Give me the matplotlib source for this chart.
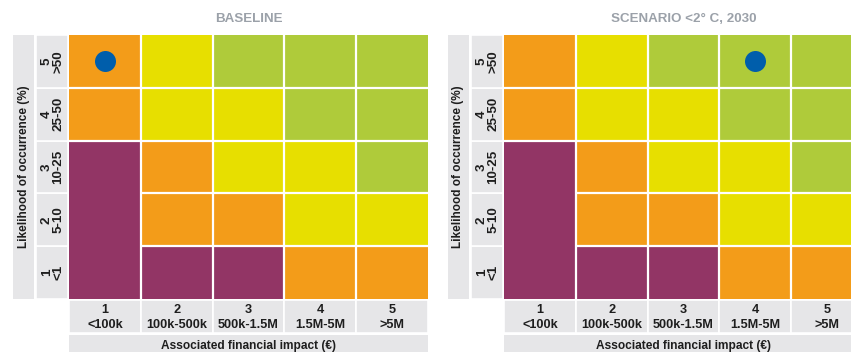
import matplotlib
matplotlib.use("Agg")
import matplotlib.pyplot as plt
from matplotlib.patches import Rectangle
import numpy as np

plt.rcParams['font.family'] = ['Liberation Sans', 'DejaVu Sans']

# Risk matrix: rows = likelihood 1..5 (bottom to top), columns = impact 1..5
# levels: 0 = purple, 1 = orange, 2 = yellow, 3 = green
impact_codes = ["1", "2", "3", "4", "5"]
impact_ranges = ["<100k", "100k-500k", "500k-1.5M", "1.5M-5M", ">5M"]
likelihood_codes = ["1", "2", "3", "4", "5"]
likelihood_ranges = ["<1", "5-10", "10-25", "25-50", ">50"]

baseline_levels = [
    [0, 0, 0, 1, 1],   # likelihood 1
    [0, 1, 1, 2, 2],   # likelihood 2
    [0, 1, 2, 2, 3],   # likelihood 3
    [1, 2, 2, 3, 3],   # likelihood 4
    [1, 2, 3, 3, 3],   # likelihood 5
]
scenario_levels = [
    [0, 0, 0, 1, 1],
    [0, 1, 1, 2, 2],
    [0, 1, 2, 2, 3],
    [1, 2, 2, 3, 3],
    [1, 2, 3, 3, 3],
]
baseline_point = (1, 5)   # (impact, likelihood)
scenario_point = (4, 5)

panel_titles = ["BASELINE", "SCENARIO <2° C, 2030"]
x_title = "Associated financial impact (€)"
y_title = "Likelihood of occurrence (%)"

level_colors = ["#923565", "#F39C19", "#E7DF00", "#AFCB3A"]
band_color = "#E6E6E8"
title_color = "#9BA1A9"
text_color = "#1E1E1E"
dot_color = "#005EAB"

W, H = 851, 352
fig = plt.figure(figsize=(W / 100, H / 100), dpi=100)

# pixel size of one matrix cell
PX, PY = 71.8, 52.8


def draw_panel(left_px, title, levels, point):
    top_px, bottom_px = 35, 299
    ax = fig.add_axes([left_px / W, (H - bottom_px) / H,
                       5 * PX / W, (bottom_px - top_px) / H])
    ax.set_xlim(0.5, 5.5)
    ax.set_ylim(0.5, 5.5)
    ax.set_axis_off()

    lv = np.array(levels)
    n_rows, n_cols = lv.shape
    for r in range(n_rows):
        for c in range(n_cols):
            ax.add_patch(Rectangle((c + 0.5, r + 0.5), 1, 1,
                                   facecolor=level_colors[lv[r, c]],
                                   edgecolor="none", zorder=1))
    lw = 1.6
    # vertical separators
    for c in range(1, n_cols):
        ax.vlines(c + 0.5, 0.5, 5.5, color="white", lw=lw, zorder=2)
    # horizontal separators, merged where the lowest level stacks vertically
    for r in range(1, n_rows):
        for c in range(n_cols):
            if lv[r, c] == 0 and lv[r - 1, c] == 0:
                continue
            ax.hlines(r + 0.5, c + 0.5, c + 1.5, color="white", lw=lw, zorder=2)

    # marker
    ax.scatter([point[0]], [point[1]], s=(21 * 0.72) ** 2, color=dot_color,
               zorder=3, linewidths=0)

    # row label band
    x0 = 0.5 - 33 / PX
    for r in range(n_rows):
        ax.add_patch(Rectangle((x0, r + 0.5), 32 / PX, 1, facecolor=band_color,
                               edgecolor="white", lw=1.2, clip_on=False, zorder=1))
        ax.text(0.5 - 16.5 / PX, r + 1, f"{likelihood_codes[r]}\n{likelihood_ranges[r]}",
                rotation=90, ha="center", va="center", multialignment="center",
                fontsize=9.6, fontweight="bold", color=text_color,
                linespacing=0.9, clip_on=False)
    # y-axis title band
    ax.add_patch(Rectangle((0.5 - 56 / PX, 0.5), 21 / PX, 5, facecolor=band_color,
                           edgecolor="none", clip_on=False, zorder=1))
    ax.text(0.5 - 45.5 / PX, 3.0, y_title, rotation=90, ha="center", va="center",
            fontsize=8.5, fontweight="bold", color=text_color, clip_on=False)

    # column label band
    y0 = 0.5 - 34 / PY
    for c in range(n_cols):
        ax.add_patch(Rectangle((c + 0.5, y0), 1, 33 / PY, facecolor=band_color,
                               edgecolor="white", lw=1.2, clip_on=False, zorder=1))
        ax.text(c + 1, 0.5 - 18.5 / PY, f"{impact_codes[c]}\n{impact_ranges[c]}",
                ha="center", va="center", multialignment="center",
                fontsize=9.2, fontweight="bold", color=text_color,
                linespacing=1.25, clip_on=False)
    # x-axis title band
    ax.add_patch(Rectangle((0.5, 0.5 - 60 / PY), 5, 24 / PY, facecolor=band_color,
                           edgecolor="none", clip_on=False, zorder=1))
    ax.text(3.0, 0.5 - 47.5 / PY, x_title, ha="center", va="center",
            fontsize=8.6, fontweight="bold", color=text_color, clip_on=False)

    # panel title
    ax.text(3.0, 5.5 + 15.5 / PY, title, ha="center", va="center",
            fontsize=9.6, fontweight="bold", color=title_color, clip_on=False)
    return ax


draw_panel(69, panel_titles[0], baseline_levels, baseline_point)
draw_panel(504, panel_titles[1], scenario_levels, scenario_point)

fig.savefig("out.png", dpi=100, facecolor="white")
